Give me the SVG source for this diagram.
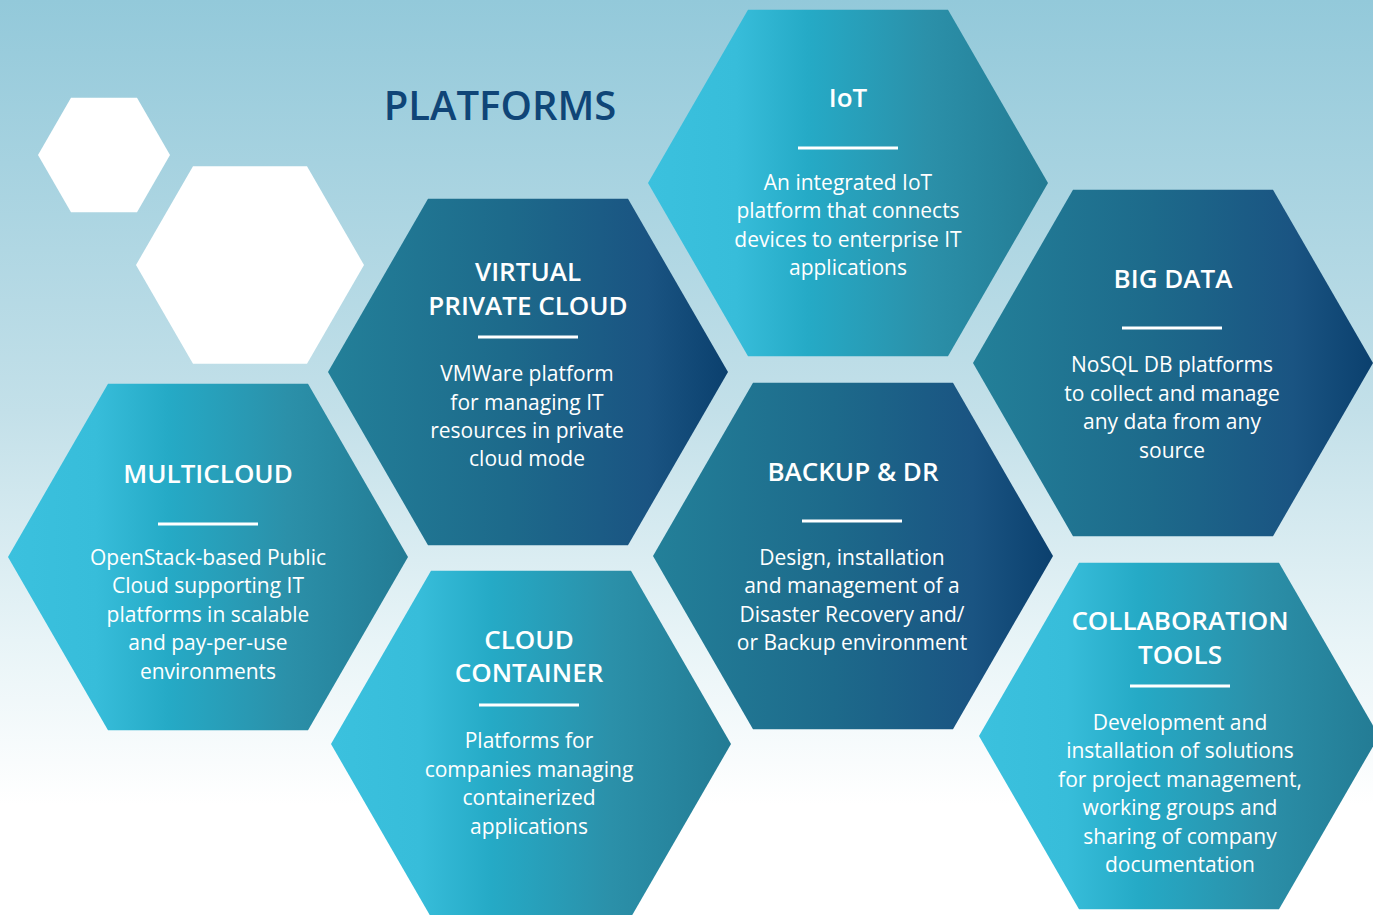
<svg xmlns="http://www.w3.org/2000/svg" width="1373" height="915" viewBox="0 0 1373 915">
<defs>
<linearGradient id="bg" x1="0" y1="0" x2="0" y2="1">
<stop offset="0" stop-color="#93c9da"/>
<stop offset="0.45" stop-color="#c3e0e9"/>
<stop offset="0.7" stop-color="#e8f4f7"/>
<stop offset="0.88" stop-color="#ffffff"/>
<stop offset="1" stop-color="#ffffff"/>
</linearGradient>
<linearGradient id="light" x1="0" y1="0" x2="1" y2="0">
<stop offset="0" stop-color="#3bc1de"/>
<stop offset="0.22" stop-color="#37bdda"/>
<stop offset="0.4" stop-color="#25aac6"/>
<stop offset="0.7" stop-color="#2b90a9"/>
<stop offset="1" stop-color="#237b94"/>
</linearGradient>
<linearGradient id="dark" x1="0" y1="0" x2="1" y2="0">
<stop offset="0" stop-color="#238099"/>
<stop offset="0.45" stop-color="#1d6a8b"/>
<stop offset="0.8" stop-color="#1a5482"/>
<stop offset="1" stop-color="#0b406e"/>
</linearGradient>
</defs>
<style>
.light{fill:url(#light)}
.dark{fill:url(#dark)}
.white{fill:#ffffff}
.title{font-family:"Open Sans","Liberation Sans",sans-serif;font-weight:600;font-size:26px;fill:#ffffff;text-anchor:middle}
.body{font-family:"Open Sans","Liberation Sans",sans-serif;font-weight:400;font-size:21px;fill:#ffffff;text-anchor:middle}
.rule{stroke:#ffffff;stroke-width:3}
.head{font-family:"Open Sans","Liberation Sans",sans-serif;font-weight:600;font-size:40px;fill:#0f4577;text-anchor:middle}
</style>
<rect x="0" y="0" width="1373" height="915" fill="url(#bg)"/>
<text class="head" x="500" y="120">PLATFORMS</text>
<g id="deco-small"><polygon class="white" points="38,155 71,97.8 137,97.8 170,155 137,212.2 71,212.2"/></g>
<g id="deco-large"><polygon class="white" points="136,265 193,166.3 307,166.3 364,265 307,363.7 193,363.7"/></g>
<g id="connectors"/>
<g id="iot">
<polygon class="light" points="648,183 748,9.8 948,9.8 1048,183 948,356.2 748,356.2"/>
<text class="title" x="848" y="107">IoT</text>
<line class="rule" x1="798" y1="148" x2="898" y2="148"/>
<text class="body" x="848" y="190">An integrated IoT</text>
<text class="body" x="848" y="218">platform that connects</text>
<text class="body" x="848" y="247">devices to enterprise IT</text>
<text class="body" x="848" y="275">applications</text>
</g>
<g id="vpc">
<polygon class="dark" points="328,372 428,198.8 628,198.8 728,372 628,545.2 428,545.2"/>
<text class="title" x="528" y="281">VIRTUAL</text>
<text class="title" x="528" y="315">PRIVATE CLOUD</text>
<line class="rule" x1="478" y1="337" x2="578" y2="337"/>
<text class="body" x="527" y="381">VMWare platform</text>
<text class="body" x="527" y="410">for managing IT</text>
<text class="body" x="527" y="438">resources in private</text>
<text class="body" x="527" y="466">cloud mode</text>
</g>
<g id="bigdata">
<polygon class="dark" points="973,363 1073,189.8 1273,189.8 1373,363 1273,536.2 1073,536.2"/>
<text class="title" x="1173" y="288">BIG DATA</text>
<line class="rule" x1="1122" y1="328" x2="1222" y2="328"/>
<text class="body" x="1172" y="372">NoSQL DB platforms</text>
<text class="body" x="1172" y="401">to collect and manage</text>
<text class="body" x="1172" y="429">any data from any</text>
<text class="body" x="1172" y="458">source</text>
</g>
<g id="multicloud">
<polygon class="light" points="8,557 108,383.8 308,383.8 408,557 308,730.2 108,730.2"/>
<text class="title" x="208" y="483">MULTICLOUD</text>
<line class="rule" x1="158" y1="524" x2="258" y2="524"/>
<text class="body" x="208" y="565">OpenStack-based Public</text>
<text class="body" x="208" y="593">Cloud supporting IT</text>
<text class="body" x="208" y="622">platforms in scalable</text>
<text class="body" x="208" y="650">and pay-per-use</text>
<text class="body" x="208" y="679">environments</text>
</g>
<g id="backup">
<polygon class="dark" points="653,556 753,382.8 953,382.8 1053,556 953,729.2 753,729.2"/>
<text class="title" x="853" y="481">BACKUP &amp; DR</text>
<line class="rule" x1="802" y1="521" x2="902" y2="521"/>
<text class="body" x="852" y="565">Design, installation</text>
<text class="body" x="852" y="593">and management of a</text>
<text class="body" x="852" y="622">Disaster Recovery and/</text>
<text class="body" x="852" y="650">or Backup environment</text>
</g>
<g id="container">
<polygon class="light" points="331,744 431,570.8 631,570.8 731,744 631,917.2 431,917.2"/>
<text class="title" x="529" y="649">CLOUD</text>
<text class="title" x="529" y="682">CONTAINER</text>
<line class="rule" x1="479" y1="705" x2="579" y2="705"/>
<text class="body" x="529" y="748">Platforms for</text>
<text class="body" x="529" y="777">companies managing</text>
<text class="body" x="529" y="805">containerized</text>
<text class="body" x="529" y="834">applications</text>
</g>
<g id="collab">
<polygon class="light" points="979,736 1079,562.8 1279,562.8 1379,736 1279,909.2 1079,909.2"/>
<text class="title" x="1180" y="630">COLLABORATION</text>
<text class="title" x="1180" y="664">TOOLS</text>
<line class="rule" x1="1130" y1="686" x2="1230" y2="686"/>
<text class="body" x="1180" y="730">Development and</text>
<text class="body" x="1180" y="758">installation of solutions</text>
<text class="body" x="1180" y="787">for project management,</text>
<text class="body" x="1180" y="815">working groups and</text>
<text class="body" x="1180" y="844">sharing of company</text>
<text class="body" x="1180" y="872">documentation</text>
</g>
</svg>
